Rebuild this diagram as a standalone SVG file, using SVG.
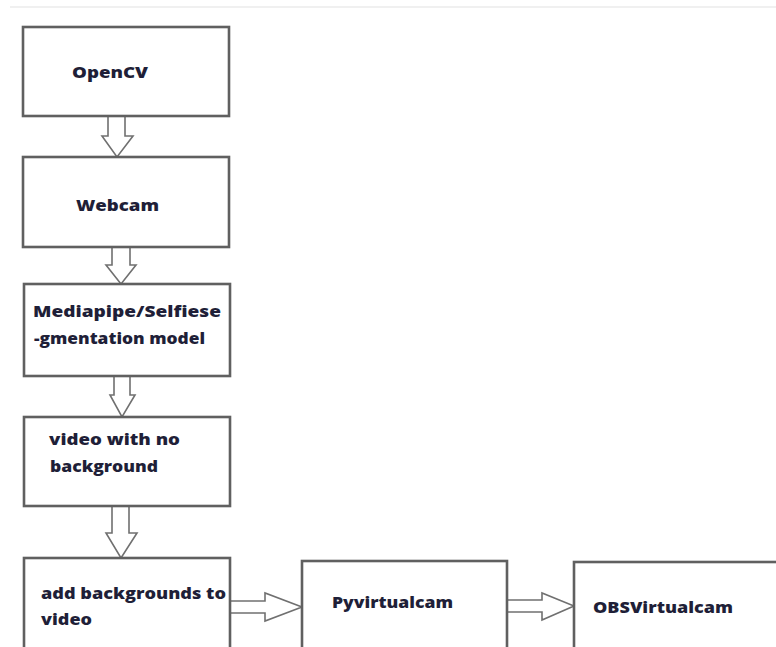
<svg xmlns="http://www.w3.org/2000/svg" width="776" height="647" viewBox="0 0 776 647">
<style>
.box{fill:#fff;stroke:#606060;stroke-width:2.6}
.arr{fill:#fff;stroke:#707070;stroke-width:1.6;stroke-linejoin:miter}
.t{font-family:"Open Sans","Liberation Sans",sans-serif;font-weight:800;font-size:16px;fill:#1f1f38}
</style>
<rect x="0" y="0" width="776" height="647" fill="#fff"/>
<line x1="10" y1="7" x2="776" y2="7" stroke="#f0f0f0" stroke-width="2"/>
<g id="connectors">
<path class="arr" d="M108,116 L108,136 L102,136 L117,157 L133,136 L125,136 L125,116"/>
<path class="arr" d="M112,247 L112,265 L106,265 L121,284 L136,265 L130,265 L130,247"/>
<path class="arr" d="M114,376 L114,395 L110,395 L122,417 L135,395 L130,395 L130,376"/>
<path class="arr" d="M112,506 L112,533 L106,533 L121,558 L137,533 L129,533 L129,506"/>
<path class="arr" d="M230,601 L265,601 L265,593 L302,607 L265,621 L265,613 L230,613"/>
<path class="arr" d="M507,600 L542,600 L542,593 L574,606 L542,620 L542,612 L507,612"/>
</g>
<g id="n1"><rect class="box" x="23" y="27" width="206" height="89"/><text class="t" x="72" y="78" textLength="76" lengthAdjust="spacingAndGlyphs">OpenCV</text></g>
<g id="n2"><rect class="box" x="23" y="157" width="206" height="90"/><text class="t" x="76" y="211" textLength="83" lengthAdjust="spacingAndGlyphs">Webcam</text></g>
<g id="n3"><rect class="box" x="24" y="284" width="206" height="92"/><text class="t" x="33" y="317" textLength="188" lengthAdjust="spacingAndGlyphs">Mediapipe/Selfiese</text><text class="t" x="34" y="344" textLength="171" lengthAdjust="spacingAndGlyphs">-gmentation model</text></g>
<g id="n4"><rect class="box" x="24" y="417" width="206" height="89"/><text class="t" x="49" y="445" textLength="131" lengthAdjust="spacingAndGlyphs">video with no</text><text class="t" x="50" y="472" textLength="108" lengthAdjust="spacingAndGlyphs">background</text></g>
<g id="n5"><rect class="box" x="24" y="558" width="206" height="100"/><text class="t" x="41" y="599" textLength="185" lengthAdjust="spacingAndGlyphs">add backgrounds to</text><text class="t" x="41" y="625" textLength="51" lengthAdjust="spacingAndGlyphs">video</text></g>
<g id="n6"><rect class="box" x="302" y="561" width="205" height="100"/><text class="t" x="332" y="608" textLength="121" lengthAdjust="spacingAndGlyphs">Pyvirtualcam</text></g>
<g id="n7"><rect class="box" x="574" y="562" width="212" height="100"/><text class="t" x="593" y="613" textLength="140" lengthAdjust="spacingAndGlyphs">OBSVirtualcam</text></g>
</svg>
